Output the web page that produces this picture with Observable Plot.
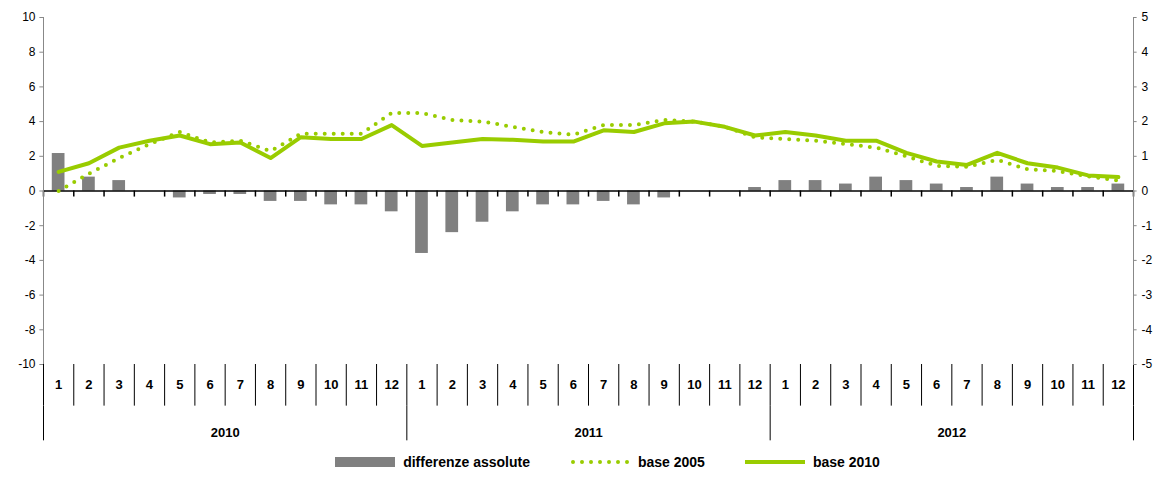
<!DOCTYPE html>
<html><head><meta charset="utf-8">
<script src="https://cdn.jsdelivr.net/npm/d3@7"></script>
<script src="https://cdn.jsdelivr.net/npm/@observablehq/plot@0.6"></script>
<style>
body{margin:0;background:#fff;font-family:"Liberation Sans",Arial,sans-serif;}
#legend{display:flex;justify-content:center;gap:40px;font-weight:bold;font-size:14px;margin-top:4px;margin-left:40px}
#legend span{display:flex;align-items:center;gap:8px}
</style></head><body>
<div id="chart"></div>
<div id="legend">
<span><svg width="60" height="12"><rect x="0" y="1" width="60" height="10" fill="#808080"/></svg>differenze assolute</span>
<span><svg width="60" height="12"><line x1="3" y1="6" x2="60" y2="6" stroke="#99cc00" stroke-width="4" stroke-linecap="round" stroke-dasharray="0 9"/></svg>base 2005</span>
<span><svg width="60" height="12"><line x1="0" y1="6" x2="60" y2="6" stroke="#99cc00" stroke-width="4"/></svg>base 2010</span>
</div>
<script>
const years = ["2010","2011","2012"];
const months = ["1","2","3","4","5","6","7","8","9","10","11","12"];
const base2010 = [1.1,1.6,2.5,2.9,3.2,2.7,2.8,1.9,3.1,3.0,3.0,3.8, 2.6,2.8,3.0,2.95,2.85,2.85,3.5,3.4,3.9,4.0,3.7,3.2, 3.4,3.2,2.9,2.9,2.2,1.7,1.5,2.2,1.6,1.35,0.9,0.8];
const base2005 = [0.0,1.0,1.9,2.7,3.4,2.8,2.9,2.3,3.3,3.3,3.3,4.5, 4.5,4.1,4.0,3.7,3.4,3.25,3.8,3.8,4.1,4.0,3.7,3.1, 3.0,2.9,2.7,2.5,2.0,1.45,1.4,1.8,1.25,1.15,0.85,0.6];
const diffs = [1.08,0.4,0.3,0,-0.2,-0.1,-0.1,-0.3,-0.3,-0.4,-0.4,-0.6, -1.8,-1.2,-0.9,-0.6,-0.4,-0.4,-0.3,-0.4,-0.2,0,0,0.1, 0.3,0.3,0.2,0.4,0.3,0.2,0.1,0.4,0.2,0.1,0.1,0.2];
const leftTicks = d3.range(-10,11,2);
const rightTicks = d3.range(-5,6,1);

const data = base2010.map((v,i)=>({i, m: months[i%12], b10: v, b05: base2005[i], d: diffs[i]*2}));
const yearData = years.map((y,k)=>({y, c: k*12+6}));
const green = "#99cc00";
const f = "Liberation Sans, Arial, sans-serif";

const chart = Plot.plot({
  width: 1175, height: 450,
  marginLeft: 43, marginRight: 42, marginTop: 17, marginBottom: 86,
  x: {type: "linear", domain: [0,36], axis: null},
  y: {type: "linear", domain: [-10,10], axis: null},
  style: {fontFamily: f, fontSize: "12px", color: "#000", overflow: "visible"},
  marks: [
    Plot.rectY(data, {x1: d=>d.i+0.29, x2: d=>d.i+0.71, y1: 0, y2: "d", fill: "#808080"}),
    Plot.ruleY([0], {stroke: "#000", strokeWidth: 1.5}),
    Plot.ruleX(d3.range(0,37), {x: d=>d, y1: 0, y2: -0.35, stroke: "#000", strokeWidth: 1.5}),
    Plot.ruleX(d3.range(0,37), {x: d=>d, y1: -10, y2: -12.4, stroke: "#000", strokeWidth: 1}),
    Plot.ruleX([0,12,24,36], {x: d=>d, y1: -12.4, y2: -14.4, stroke: "#000", strokeWidth: 1}),
    Plot.ruleX([0, 36], {x: d=>d, y1: -10, y2: 10, stroke: "#888"}),
    Plot.ruleY(leftTicks, {y: d=>d, x1: -0.12, x2: 0, stroke: "#888"}),
    Plot.ruleY(leftTicks, {y: d=>d, x1: 36, x2: 36.12, stroke: "#888"}),
    Plot.text(leftTicks, {x: 0, y: d=>d, text: d=>String(d), textAnchor: "end", dx: -8, fontSize: 12}),
    Plot.text(rightTicks, {x: 36, y: d=>d*2, text: d=>String(d), textAnchor: "start", dx: 8, fontSize: 12}),
    Plot.line(data, {x: d=>d.i+0.5, y: "b05", stroke: green, strokeWidth: 4, strokeDasharray: "0 9", strokeLinecap: "round"}),
    Plot.line(data, {x: d=>d.i+0.5, y: "b10", stroke: green, strokeWidth: 4}),
    Plot.text(data, {x: d=>d.i+0.5, y: -10, dy: 20, text: "m", fontWeight: "bold", fontSize: 13}),
    Plot.text(yearData, {x: "c", y: -10, dy: 68, text: "y", fontWeight: "bold", fontSize: 13})
  ]
});
document.getElementById("chart").appendChild(chart);
</script></body></html>
